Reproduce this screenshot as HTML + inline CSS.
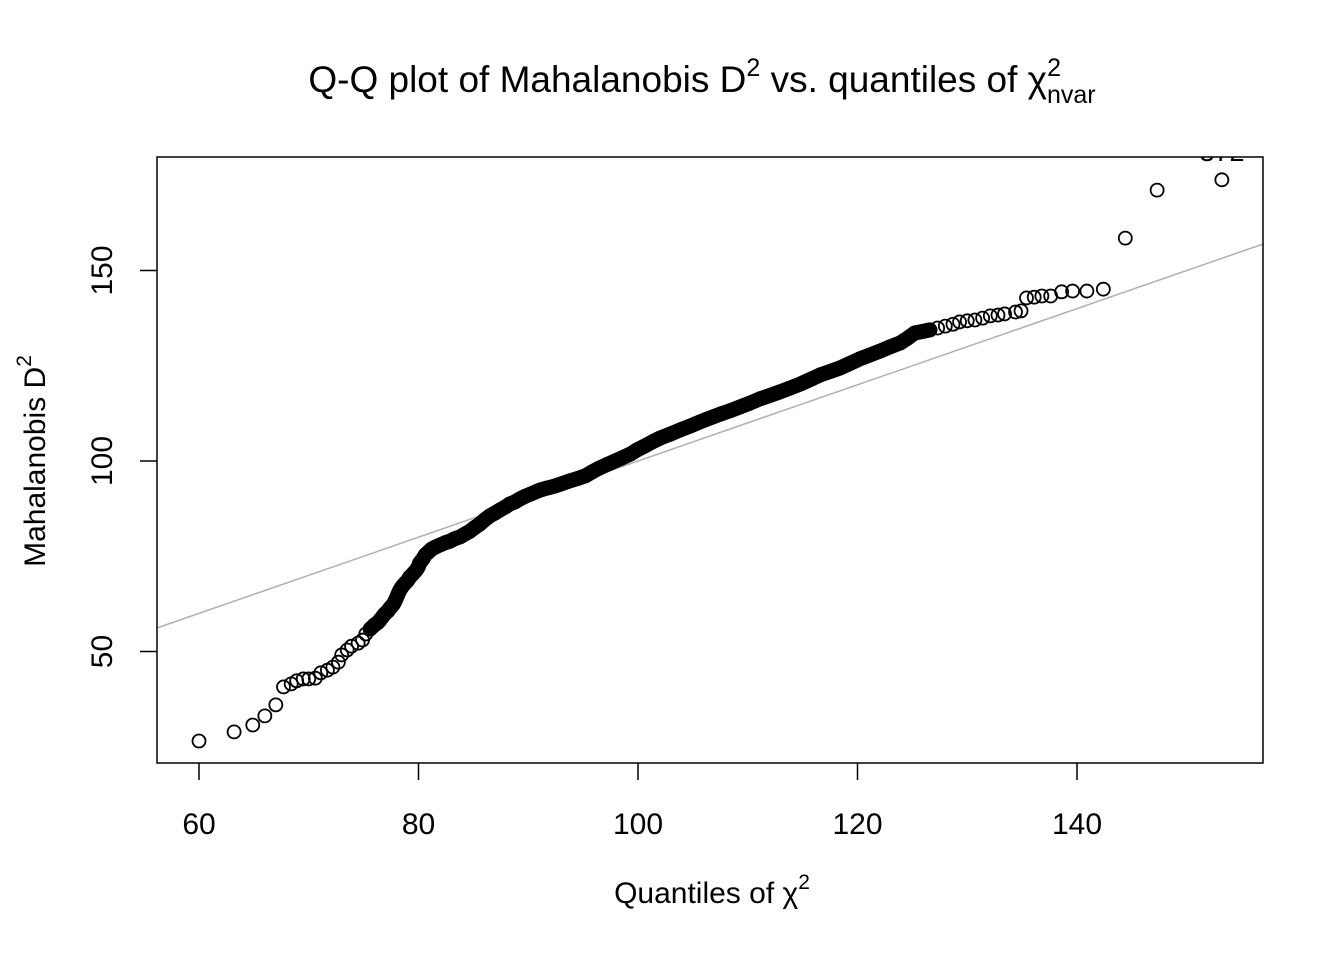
<!DOCTYPE html>
<html><head><meta charset="utf-8"><style>
body{margin:0;background:#fff;}
svg text{font-family:"Liberation Sans",Arial,sans-serif;fill:#000;}
</style></head><body>
<svg width="1344" height="960" xmlns="http://www.w3.org/2000/svg">
<defs><clipPath id="pc"><rect x="157" y="157" width="1106" height="606"/></clipPath></defs>
<text x="702" y="92" font-size="37" text-anchor="middle">Q-Q plot of Mahalanobis D<tspan font-size="25" dy="-16">2</tspan><tspan dy="16"> vs. quantiles of χ</tspan><tspan font-size="25" dy="-16">2</tspan><tspan font-size="25" dx="-14" dy="27">nvar</tspan></text>
<g id="plot" clip-path="url(#pc)"></g>
<rect x="157" y="157" width="1106" height="606" fill="none" stroke="#000" stroke-width="1.5"/>
<g id="axes"></g>
<text x="712" y="903" font-size="30" text-anchor="middle">Quantiles of  χ<tspan font-size="21" dy="-14">2</tspan></text>
<text transform="translate(45,461) rotate(-90)" font-size="30" text-anchor="middle">Mahalanobis D<tspan font-size="21" dy="-14">2</tspan></text>
</svg>
<script>
const xs=[60,63.2,64.9,66.0,67.0,67.7,68.4,68.9,69.5,70.0,70.6,71.1,71.7,72.2,72.7,73.0,73.5,73.9,74.5,74.9,75.2,75.6,76.0,76.3,76.5,76.9,77.2,77.4,77.7,77.9,78.1,78.3,78.5,78.7,79.0,79.2,79.5,79.8,80.0,80.1,80.4,80.6,80.9,81.2,81.6,82.0,82.4,82.9,83.3,83.8,84.2,84.7,85.1,85.6,86.0,86.5,87.0,87.4,87.9,88.3,88.8,89.2,89.7,90.2,90.6,91.1,91.7,92.4,93.1,93.8,94.5,95.2,95.8,96.5,97.2,97.9,98.6,99.3,99.9,100.6,101.3,102.0,102.9,103.8,104.7,105.6,106.5,107.5,108.4,109.3,110.2,111.1,112.0,112.9,113.8,114.8,115.7,116.6,117.5,118.4,119.3,120.2,121.1,122.1,123.0,123.9,124.6,125.2,125.9,126.6,127.3,128.0,128.7,129.3,130.0,130.7,131.4,132.1,132.8,133.4,134.4,134.9,135.4,136.1,136.8,137.6,138.6,139.6,140.9,142.4,144.4,147.3,153.2];
const ys=[26.5,28.9,30.7,33.1,36.0,40.7,41.5,42.3,42.8,42.8,43.0,44.4,45.1,45.9,47.2,49.1,50.4,51.4,52.2,53.0,54.6,55.9,57.0,57.6,58.3,59.8,60.6,61.4,62.4,63.5,64.8,66.1,67.0,67.7,68.6,69.5,70.4,71.4,72.3,73.2,74.3,75.3,76.1,76.9,77.5,78.0,78.5,79.0,79.6,80.1,80.8,81.6,82.5,83.5,84.5,85.6,86.4,87.1,87.9,88.7,89.3,90.0,90.7,91.3,91.8,92.4,92.9,93.4,94.1,94.8,95.4,96.1,97.1,98.2,99.1,100.0,100.9,101.8,102.9,103.9,105.0,106.0,107.0,108.1,109.1,110.2,111.2,112.3,113.2,114.2,115.2,116.3,117.2,118.1,119.1,120.2,121.4,122.6,123.5,124.4,125.6,126.8,127.8,128.9,130.0,131.0,132.3,133.6,134.0,134.4,134.9,135.4,135.9,136.5,136.8,137.0,137.5,138.1,138.3,138.6,139.1,139.4,142.8,143.0,143.3,143.3,144.4,144.6,144.6,145.1,158.5,171.1,173.8];
const xTicks=[60,80,100,120,140];
const yTicks=[50,100,150];
const X=v=>199+(v-60)*10.975;
const Y=v=>461-(v-100)*3.81;
const NS="http://www.w3.org/2000/svg";
const plot=document.getElementById('plot'),axes=document.getElementById('axes');
function mk(tag,attrs,parent){const e=document.createElementNS(NS,tag);for(const k in attrs)e.setAttribute(k,attrs[k]);parent.appendChild(e);return e;}
const ln=mk('line',{x1:X(50),y1:Y(50),x2:X(160),y2:Y(160),stroke:'#b0b0b0','stroke-width':1.5},plot);


let d='';
for(let i=0;i<xs.length;i++){ if(xs[i]>=75.4&&xs[i]<=126.6){d+=(d?'L':'M')+X(xs[i]).toFixed(1)+' '+Y(ys[i]).toFixed(1);} }
const band=mk('path',{d:d,fill:'none',stroke:'#000','stroke-width':15,'stroke-linecap':'round','stroke-linejoin':'round'},plot);


for(let i=0;i<xs.length;i++){
 const c=mk('circle',{cx:X(xs[i]),cy:Y(ys[i]),r:6.5,fill:'none',stroke:'#000','stroke-width':1.8},plot);
 
 
}
const lab=mk('text',{x:1222,y:161,'font-size':27,'text-anchor':'middle'},plot);
lab.textContent='372';


xTicks.forEach(t=>{
 const tk=mk('line',{x1:X(t),y1:763,x2:X(t),y2:780,stroke:'#000','stroke-width':1.5},axes);
 
 
 const tx=mk('text',{x:X(t),y:834,'font-size':30,'text-anchor':'middle'},axes);
 tx.textContent=t;
 
 
});
yTicks.forEach(t=>{
 const tk=mk('line',{x1:140,y1:Y(t),x2:157,y2:Y(t),stroke:'#000','stroke-width':1.5},axes);
 
 
 const tx=mk('text',{x:0,y:0,'font-size':30,'text-anchor':'middle',transform:`translate(112,${Y(t)}) rotate(-90)`},axes);
 tx.textContent=t;
 
 
});
</script>
</body></html>
